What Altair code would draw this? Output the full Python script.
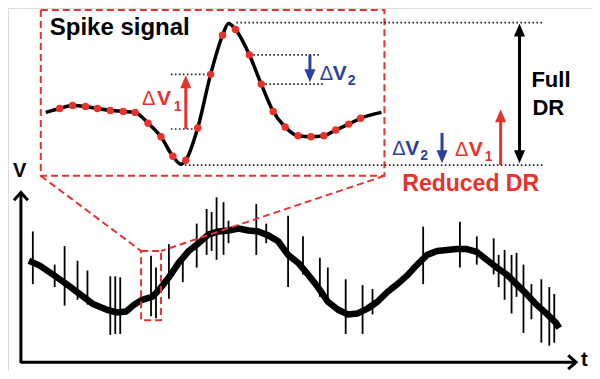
import altair as alt
import pandas as pd

RED = "#e8322c"
BLUE = "#2d3f9e"
BLACK = "#000000"

# ---- main noisy signal (base trace), x = time position, y = screen-down voltage position
sig_x = [29, 40, 53, 67, 80, 93, 107, 117, 127, 135, 143, 153, 160, 170, 180, 190, 200, 210, 220, 230,
         240, 250, 260, 270, 280, 290, 300, 310, 320, 330, 340, 350, 360, 370, 380, 390, 400, 410, 420,
         430, 440, 450, 460, 470, 480, 490, 500, 510, 520, 530, 540, 550, 560, 563]
sig_y = [263, 268, 277, 287, 297, 307, 313, 316, 315, 308, 303, 300, 293, 280, 265, 253, 245, 236, 233, 232,
         230, 232, 233, 237, 243, 257, 265, 277, 290, 305, 313, 318, 317, 312, 305, 295, 287, 278, 267,
         257, 253, 252, 251, 251, 254, 262, 270, 277, 287, 297, 308, 317, 327, 332]

# ---- noise spikes on the signal (x, top, bottom)
spk_x = [33, 55, 65, 78, 88, 111, 116, 121, 152, 157, 170, 184, 198, 208, 213, 218, 225, 230, 258, 268,
         290, 305, 322, 330, 348, 365, 375, 426, 463, 480, 497, 502, 508, 515, 520, 527, 535, 545, 553, 558]
spk_top = [233, 267, 248, 263, 273, 279, 279, 280, 258, 270, 246, 262, 225, 210, 213, 198, 203, 222, 205, 225,
           217, 238, 260, 270, 282, 288, 292, 228, 223, 238, 240, 257, 252, 257, 255, 267, 287, 282, 290, 297]
spk_bot = [287, 290, 309, 303, 308, 339, 338, 338, 320, 322, 302, 285, 270, 257, 253, 262, 257, 245, 257, 245,
           290, 277, 300, 303, 338, 338, 318, 287, 270, 267, 277, 290, 303, 317, 300, 337, 323, 347, 350, 347]

# ---- spike waveform (inset): sampled points (red dots) and curve extremes
dot_x = [60, 73, 86, 98, 111, 124, 136, 149, 162, 174, 187, 199, 212, 224, 237, 251, 263, 275, 287, 300,
         313, 326, 338, 351, 363]
dot_y = [107, 104, 105, 107, 109, 110, 111, 122, 136, 156, 160, 127, 72, 32, 26, 52, 82, 110, 126, 135,
         136, 135, 129, 123, 117]
extra_x = [46, 182, 230, 384]
extra_y = [111, 164, 20, 111]

# ---- dotted reference levels (y, x start, x end)
dot_lvl_y = [19, 165, 72, 128, 52, 82]
dot_lvl_x1 = [238, 182, 172, 172, 251, 263]
dot_lvl_x2 = [547, 548, 212, 199, 323, 325]

# ---- arrows
shaft_x = [187, 312, 445, 504, 523]
shaft_y1 = [128, 52, 132, 165, 27]
shaft_y2 = [80, 73, 156, 115, 156]
shaft_col = [RED, BLUE, BLUE, RED, BLACK]
head_x = [187, 312, 445, 504, 523, 523]
head_tip = [73, 80, 163, 108, 20, 163]
head_dir = [-1, 1, 1, -1, -1, 1]     # -1 points up, 1 points down
head_col = [RED, BLUE, BLUE, RED, BLACK, BLACK]

# ---- texts (baseline positions)
txt = ["Spike signal", "V", "Full", "DR", "Reduced DR",
       "Δ", "V", "1", "Δ", "V", "2", "Δ", "V", "2", "Δ", "V", "1"]
txt_x = [50, 13, 535, 536, 405,
         143, 158, 175, 322, 335, 350, 395, 408, 423, 458, 472, 488]
txt_y = [32, 177, 85, 114, 192,
         103, 103, 110, 78, 78, 83, 155, 155, 160, 156, 156, 161]
txt_size = [24, 20, 22, 22, 23,
            20, 21, 14, 20, 21, 14, 20, 21, 14, 20, 21, 14]
txt_col = [BLACK, BLACK, BLACK, BLACK, RED,
           RED, RED, RED, BLUE, BLUE, BLUE, BLUE, BLUE, BLUE, RED, RED, RED]
txt_bold = [1, 1, 1, 1, 1,
            0, 1, 1, 0, 1, 1, 0, 1, 1, 0, 1, 1]

# time-axis label (placed by its bottom edge)
t_label = ["t"]
t_x = [585]
t_y = [375]

# ---------------------------------------------------------------------------
X = alt.Scale(domain=[8, 596])
Y = alt.Scale(domain=[4, 376], reverse=True)
HEAD_H = 13

def xe(f="x"):
    return alt.X(f + ":Q", scale=X, axis=None)

def ye(f="y"):
    return alt.Y(f + ":Q", scale=Y, axis=None)

sig = pd.DataFrame({"x": sig_x, "y": sig_y})
spk = pd.DataFrame({"x": spk_x, "y": spk_top, "y2": spk_bot})
dots = pd.DataFrame({"x": dot_x, "y": dot_y})
wave = pd.concat([dots, pd.DataFrame({"x": extra_x, "y": extra_y})]).sort_values("x")
lvl = pd.DataFrame({"y": dot_lvl_y, "x": dot_lvl_x1, "x2": dot_lvl_x2})
shafts = pd.DataFrame({"x": shaft_x, "y": shaft_y1, "y2": shaft_y2, "c": shaft_col})
heads = pd.DataFrame({"x": head_x,
                      "y": [t - d * HEAD_H / 2 for t, d in zip(head_tip, head_dir)],
                      "a": [0 if d < 0 else 180 for d in head_dir],
                      "c": head_col})
texts = pd.DataFrame({"t": txt, "x": txt_x, "y": txt_y, "s": txt_size, "c": txt_col, "b": txt_bold})
tdf = pd.DataFrame({"t": t_label, "x": t_x, "y": t_y})

# axes (V and t) with open arrowheads
ax_rows = []
for seg, pts in enumerate([
        [(21, 368), (21, 194)],
        [(21, 367), (579, 367)],
        [(14, 201), (21, 193), (28, 201)],
        [(572, 360), (580, 367), (572, 374)]]):
    for i, (px, py) in enumerate(pts):
        ax_rows.append({"seg": seg, "o": i, "x": px, "y": py})
axes_df = pd.DataFrame(ax_rows)

# dashed boxes and connectors
boxes = pd.DataFrame({"x": [41, 142], "x2": [387, 162], "y": [6, 253], "y2": [176, 324]})
conn = pd.DataFrame({"x": [41, 387], "y": [176, 176], "x2": [142, 162], "y2": [253, 253]})

l_sig = alt.Chart(sig).mark_line(color=BLACK, strokeWidth=6.5, strokeJoin="round").encode(x=xe(), y=ye())
l_spk = alt.Chart(spk).mark_rule(color=BLACK, strokeWidth=1.8).encode(x=xe(), y=ye(), y2="y2:Q")
l_axes = alt.Chart(axes_df).mark_line(color=BLACK, strokeWidth=3, strokeJoin="miter").encode(
    x=xe(), y=ye(), detail="seg:N", order="o:Q")
l_box = alt.Chart(boxes).mark_rect(fillOpacity=0, stroke=RED, strokeWidth=2, strokeDash=[7, 4]).encode(
    x=xe(), x2="x2:Q", y=ye(), y2="y2:Q")
l_conn = alt.Chart(conn).mark_rule(color=RED, strokeWidth=2, strokeDash=[7, 4]).encode(
    x=xe(), y=ye(), x2="x2:Q", y2="y2:Q")
l_lvl = alt.Chart(lvl).mark_rule(color="#222222", strokeWidth=1.6, strokeDash=[1.6, 2.4]).encode(
    x=xe(), x2="x2:Q", y=ye())
l_wave = alt.Chart(wave).mark_line(color=BLACK, strokeWidth=3.5, interpolate="monotone").encode(x=xe(), y=ye())
l_dots = alt.Chart(dots).mark_circle(color=RED, size=55, opacity=1).encode(x=xe(), y=ye())
l_shaft = alt.Chart(shafts).mark_rule(strokeWidth=3).encode(
    x=xe(), y=ye(), y2="y2:Q", color=alt.Color("c:N", scale=None))
l_head = alt.Chart(heads).mark_point(shape="M0,-1L0.85,1L-0.85,1Z", filled=True, opacity=1,
                                     size=HEAD_H * HEAD_H).encode(
    x=xe(), y=ye(), angle=alt.Angle("a:Q", scale=None), color=alt.Color("c:N", scale=None))

def text_layer(bold):
    return alt.Chart(texts).transform_filter(alt.datum.b == bold).mark_text(
        align="left", baseline="alphabetic", font="Liberation Sans",
        fontWeight="bold" if bold else "normal").encode(
        x=xe(), y=ye(), text="t:N",
        size=alt.Size("s:Q", scale=None),
        color=alt.Color("c:N", scale=None))

l_t = alt.Chart(tdf).mark_text(align="left", baseline="bottom", font="Liberation Sans",
                               fontWeight="bold", fontSize=20, color=BLACK).encode(
    x=xe(), y=ye(), text="t:N")

chart = alt.layer(
    l_sig, l_spk, l_axes, l_conn, l_box, l_lvl, l_wave, l_dots, l_shaft, l_head,
    text_layer(1), text_layer(0), l_t
).properties(
    width=584, height=363, padding=0, autosize=alt.AutoSizeParams(type="none")
).configure_view(stroke=None).configure(background="white")

chart.save("out.html", embed_options={"renderer": "svg", "actions": False})
